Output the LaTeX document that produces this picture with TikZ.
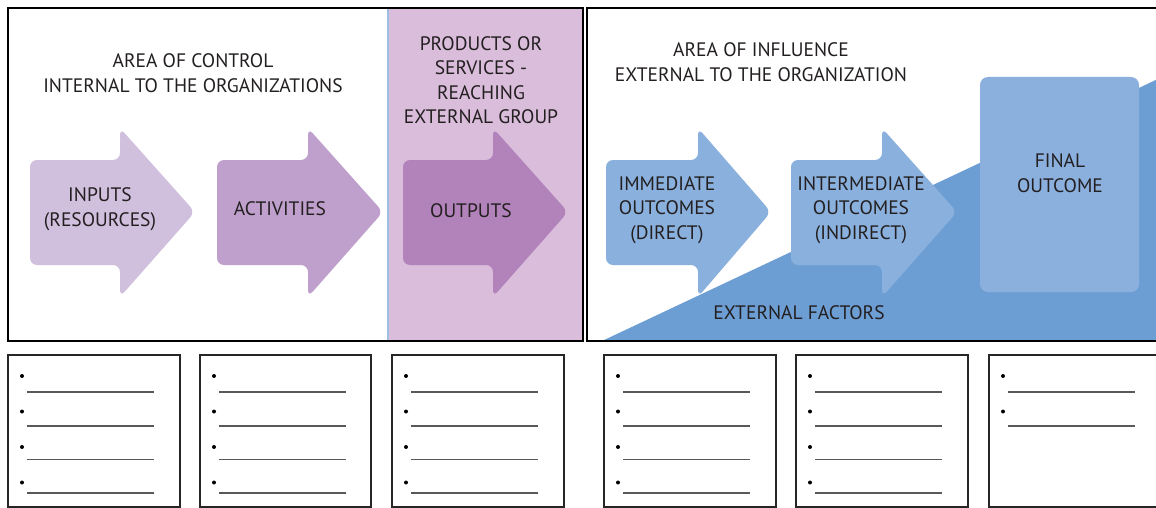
\documentclass[tikz,border=0pt]{standalone}
\usepackage{fontspec}
\setmainfont{PT Sans}
\definecolor{inpc}{HTML}{D1BFDE}
\definecolor{actc}{HTML}{BFA0CC}
\definecolor{outc}{HTML}{B283BB}
\definecolor{purbg}{HTML}{D9BDDB}
\definecolor{bluearr}{HTML}{8AB0DD}
\definecolor{bluetri}{HTML}{6D9ED3}
\definecolor{bluefin}{HTML}{8BB0DE}
\definecolor{blueline}{HTML}{9DBFE4}
\definecolor{txt}{HTML}{231F20}
\tikzset{
  lbl/.style={text=txt, font=\fontsize{19.5}{24.5}\selectfont, align=center, inner sep=0pt},
  frame/.style={draw=black, line width=2pt},
  listbox/.style={draw=black!85, line width=1.4pt},
  rule/.style={draw=black!65, line width=1.6pt},
  bul/.style={fill=black, circle, inner sep=0pt, minimum size=4pt}
}
\newcommand\bigarrow[4]{%
  \fill[#4, rounded corners=7pt] (#1,160) -- (#2,160) -- (#2,128) -- (#3,212) -- (#2,297) -- (#2,265) -- (#1,265) -- cycle;}
\newcommand\listcard[3]{% left x, right x, number of bullets
  \draw[listbox] (#1,355) rectangle (#2,507);
  \foreach \k in {1,...,#3}{
    \pgfmathsetmacro\by{376+35.5*(\k-1)}
    \pgfmathsetmacro\ly{392+33.7*(\k-1)}
    \node[bul] at (#1+14,\by) {};
    \draw[rule] (#1+19,\ly) -- (#1+146,\ly);
  }}
\begin{document}
\begin{tikzpicture}[x=1pt,y=-1pt]
\useasboundingbox (0,0) rectangle (1156,508);
\fill[white] (0,0) rectangle (1156,508);
% left area
\fill[purbg] (388,8) rectangle (583,341);
\draw[blueline, line width=1.2pt] (388,8) -- (388,341);
\draw[frame] (8,8) rectangle (583,341);
\bigarrow{30}{120}{195}{inpc}
\bigarrow{217}{308}{383}{actc}
\bigarrow{403}{493}{568}{outc}
\node[lbl] (ctrl) at (193,73) {AREA OF CONTROL\\INTERNAL TO THE ORGANIZATIONS};
\node[lbl] (prod) at (481,80) {PRODUCTS OR\\SERVICES -\\REACHING\\EXTERNAL GROUP};
\node[lbl] (inp) at (100,209) {INPUTS\\(RESOURCES)};
\node[lbl] (act) at (280,209) {ACTIVITIES};
\node[lbl] (outp) at (471,211) {OUTPUTS};
% right area
\fill[bluetri] (602,341) -- (1160,78) -- (1160,341) -- cycle;
\fill[bluefin, rounded corners=8pt] (980,77) rectangle (1139,292);
\bigarrow{606}{698}{771}{bluearr}
\bigarrow{791}{882}{957}{bluearr}
\draw[frame] (587,8) rectangle (1162,341);
\node[lbl] (infl) at (761,62) {AREA OF INFLUENCE\\EXTERNAL TO THE ORGANIZATION};
\node[lbl] (imm) at (667,210) {IMMEDIATE\\OUTCOMES\\(DIRECT)};
\node[lbl] (intm) at (861,210) {INTERMEDIATE\\OUTCOMES\\(INDIRECT)};
\node[lbl] (fin) at (1060,173) {FINAL\\OUTCOME};
\node[lbl] (ext) at (799,313) {EXTERNAL FACTORS};
% bottom cards
\listcard{8}{180}{4}
\listcard{200}{371}{4}
\listcard{392}{564}{4}
\listcard{604}{776}{4}
\listcard{796}{968}{4}
\listcard{989}{1170}{2}
\end{tikzpicture}
\end{document}
